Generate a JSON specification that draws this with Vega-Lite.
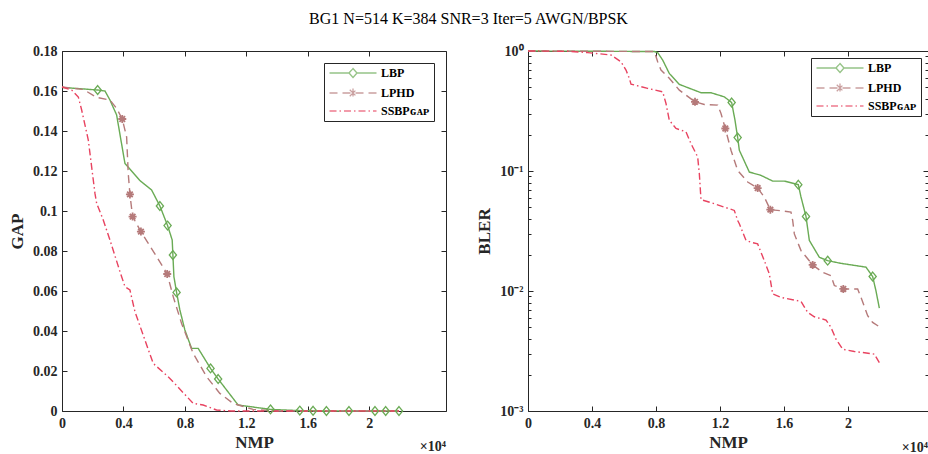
{
  "$schema": "https://vega.github.io/schema/vega-lite/v6.json",
  "background": "white",
  "padding": {"left": 8, "top": 10, "right": 0, "bottom": 0},
  "title": {"text": "BG1 N=514 K=384 SNR=3 Iter=5 AWGN/BPSK", "font": "Liberation Serif", "fontSize": 16, "fontWeight": "normal", "color": "black", "anchor": "middle", "offset": 17},
  "config": {
    "font": "Liberation Serif",
    "view": {"stroke": "#262626", "strokeWidth": 1},
    "axis": {"domain": false, "grid": false, "tickColor": "#262626", "tickSize": -5, "tickWidth": 1, "labelFont": "Liberation Serif", "labelFontSize": 14, "labelFontWeight": "bold", "labelColor": "#262626", "labelPadding": 10, "titleFont": "Liberation Serif", "titleFontSize": 17, "titleFontWeight": "bold", "titleColor": "#262626", "labelFlush": false},
    "axisX": {"titlePadding": 4},
    "axisY": {"titlePadding": 6},
    "legend": {"fillColor": "white", "strokeColor": "#262626", "padding": 4, "labelFont": "Liberation Serif", "labelFontSize": 12, "labelFontWeight": "bold", "labelColor": "black", "symbolStrokeWidth": 1.3, "symbolSize": 100, "rowPadding": 4, "symbolOffset": 19, "labelOffset": 22}
  },
  "datasets": {
    "gap": [
      {"s":"LBP","x":0,"y":0.1618},{"s":"LBP","x":2322,"y":0.1605,"m":1},{"s":"LBP","x":2797,"y":0.160},{"s":"LBP","x":3122,"y":0.1555},{"s":"LBP","x":3557,"y":0.148},{"s":"LBP","x":4098,"y":0.1238},{"s":"LBP","x":4250,"y":0.1225},{"s":"LBP","x":5073,"y":0.1152},{"s":"LBP","x":5834,"y":0.1105},{"s":"LBP","x":6374,"y":0.1025,"m":1},{"s":"LBP","x":6874,"y":0.0927,"m":1},{"s":"LBP","x":7174,"y":0.0855},{"s":"LBP","x":7220,"y":0.078,"m":1},{"s":"LBP","x":7285,"y":0.0672},{"s":"LBP","x":7460,"y":0.0593,"m":1},{"s":"LBP","x":7675,"y":0.0505},{"s":"LBP","x":8000,"y":0.0405},{"s":"LBP","x":8436,"y":0.0313},{"s":"LBP","x":8866,"y":0.0313},{"s":"LBP","x":9670,"y":0.0213,"m":1},{"s":"LBP","x":10166,"y":0.016,"m":1},{"s":"LBP","x":11466,"y":0.003},{"s":"LBP","x":13574,"y":0.0008,"m":1},{"s":"LBP","x":15480,"y":0.0002,"m":1},{"s":"LBP","x":16345,"y":0.0001,"m":1},{"s":"LBP","x":17215,"y":0,"m":1},{"s":"LBP","x":18684,"y":0,"m":1},{"s":"LBP","x":20377,"y":0,"m":1},{"s":"LBP","x":21073,"y":0,"m":1},{"s":"LBP","x":21940,"y":0,"m":1},
      {"s":"LPHD","x":0,"y":0.162},{"s":"LPHD","x":1388,"y":0.1608},{"s":"LPHD","x":2254,"y":0.1568},{"s":"LPHD","x":3122,"y":0.1555},{"s":"LPHD","x":3557,"y":0.1513},{"s":"LPHD","x":3924,"y":0.146,"m":1},{"s":"LPHD","x":4208,"y":0.137},{"s":"LPHD","x":4312,"y":0.1188},{"s":"LPHD","x":4423,"y":0.1083,"m":1},{"s":"LPHD","x":4596,"y":0.0972,"m":1},{"s":"LPHD","x":5138,"y":0.0897,"m":1},{"s":"LPHD","x":6159,"y":0.0772},{"s":"LPHD","x":6850,"y":0.0685,"m":1},{"s":"LPHD","x":7240,"y":0.0572},{"s":"LPHD","x":7785,"y":0.0438},{"s":"LPHD","x":8540,"y":0.0288},{"s":"LPHD","x":9410,"y":0.0172},{"s":"LPHD","x":10276,"y":0.0088},{"s":"LPHD","x":11140,"y":0.0038},{"s":"LPHD","x":12440,"y":0.0008},{"s":"LPHD","x":14000,"y":0},{"s":"LPHD","x":21950,"y":0},
      {"s":"SSBP_GAP","x":0,"y":0.162},{"s":"SSBP_GAP","x":630,"y":0.1605},{"s":"SSBP_GAP","x":1063,"y":0.157},{"s":"SSBP_GAP","x":1280,"y":0.1505},{"s":"SSBP_GAP","x":1712,"y":0.1355},{"s":"SSBP_GAP","x":2146,"y":0.1088},{"s":"SSBP_GAP","x":2257,"y":0.1038},{"s":"SSBP_GAP","x":2686,"y":0.0955},{"s":"SSBP_GAP","x":3122,"y":0.0855},{"s":"SSBP_GAP","x":3772,"y":0.0697},{"s":"SSBP_GAP","x":4098,"y":0.0622},{"s":"SSBP_GAP","x":4423,"y":0.0605},{"s":"SSBP_GAP","x":4748,"y":0.0497},{"s":"SSBP_GAP","x":5398,"y":0.0355},{"s":"SSBP_GAP","x":5939,"y":0.0238},{"s":"SSBP_GAP","x":7024,"y":0.0163},{"s":"SSBP_GAP","x":8540,"y":0.0038},{"s":"SSBP_GAP","x":9190,"y":0.003},{"s":"SSBP_GAP","x":10060,"y":0.0005},{"s":"SSBP_GAP","x":11000,"y":0},{"s":"SSBP_GAP","x":21950,"y":0}
    ],
    "bler": [
      {"s":"LBP","x":0,"y":1},{"s":"LBP","x":7900,"y":0.99},{"s":"LBP","x":8104,"y":0.97},{"s":"LBP","x":8419,"y":0.84},{"s":"LBP","x":8831,"y":0.65},{"s":"LBP","x":9459,"y":0.527},{"s":"LBP","x":10812,"y":0.449},{"s":"LBP","x":11437,"y":0.449},{"s":"LBP","x":12270,"y":0.415},{"s":"LBP","x":12729,"y":0.372,"m":1},{"s":"LBP","x":12937,"y":0.265},{"s":"LBP","x":13104,"y":0.19,"m":1},{"s":"LBP","x":13208,"y":0.149},{"s":"LBP","x":13833,"y":0.098},{"s":"LBP","x":14562,"y":0.092},{"s":"LBP","x":15293,"y":0.0824},{"s":"LBP","x":16020,"y":0.0824},{"s":"LBP","x":16895,"y":0.0769,"m":1},{"s":"LBP","x":17063,"y":0.0607},{"s":"LBP","x":17375,"y":0.0418,"m":1},{"s":"LBP","x":17583,"y":0.0264},{"s":"LBP","x":18208,"y":0.0191},{"s":"LBP","x":18729,"y":0.0179,"m":1},{"s":"LBP","x":19562,"y":0.017},{"s":"LBP","x":21125,"y":0.0158},{"s":"LBP","x":21541,"y":0.0132,"m":1},{"s":"LBP","x":21750,"y":0.01},{"s":"LBP","x":21958,"y":0.0072},
      {"s":"LPHD","x":0,"y":1},{"s":"LPHD","x":7900,"y":0.99},{"s":"LPHD","x":8104,"y":0.814},{"s":"LPHD","x":8313,"y":0.694},{"s":"LPHD","x":8831,"y":0.592},{"s":"LPHD","x":9459,"y":0.472},{"s":"LPHD","x":10438,"y":0.377,"m":1},{"s":"LPHD","x":11020,"y":0.358},{"s":"LPHD","x":11854,"y":0.354},{"s":"LPHD","x":12063,"y":0.301},{"s":"LPHD","x":12333,"y":0.226,"m":1},{"s":"LPHD","x":12687,"y":0.149},{"s":"LPHD","x":13104,"y":0.101},{"s":"LPHD","x":13729,"y":0.081},{"s":"LPHD","x":14354,"y":0.0721,"m":1},{"s":"LPHD","x":14771,"y":0.0606},{"s":"LPHD","x":15146,"y":0.0476,"m":1},{"s":"LPHD","x":15812,"y":0.0467},{"s":"LPHD","x":16437,"y":0.0454},{"s":"LPHD","x":16542,"y":0.0387},{"s":"LPHD","x":16646,"y":0.0299},{"s":"LPHD","x":17063,"y":0.0217},{"s":"LPHD","x":17792,"y":0.0165,"m":1},{"s":"LPHD","x":18417,"y":0.0143},{"s":"LPHD","x":18937,"y":0.0134},{"s":"LPHD","x":19146,"y":0.0111},{"s":"LPHD","x":19708,"y":0.0104,"m":1},{"s":"LPHD","x":20604,"y":0.0104},{"s":"LPHD","x":20812,"y":0.00885},{"s":"LPHD","x":21229,"y":0.00622},{"s":"LPHD","x":21541,"y":0.00547},{"s":"LPHD","x":21958,"y":0.00504},
      {"s":"SSBP_GAP","x":0,"y":1},{"s":"SSBP_GAP","x":2500,"y":0.995},{"s":"SSBP_GAP","x":3729,"y":0.97},{"s":"SSBP_GAP","x":5188,"y":0.926},{"s":"SSBP_GAP","x":5812,"y":0.814},{"s":"SSBP_GAP","x":6125,"y":0.694},{"s":"SSBP_GAP","x":6333,"y":0.591},{"s":"SSBP_GAP","x":6438,"y":0.53},{"s":"SSBP_GAP","x":7479,"y":0.488},{"s":"SSBP_GAP","x":8419,"y":0.457},{"s":"SSBP_GAP","x":8625,"y":0.365},{"s":"SSBP_GAP","x":8831,"y":0.265},{"s":"SSBP_GAP","x":9250,"y":0.226},{"s":"SSBP_GAP","x":9875,"y":0.212},{"s":"SSBP_GAP","x":10187,"y":0.169},{"s":"SSBP_GAP","x":10604,"y":0.131},{"s":"SSBP_GAP","x":10708,"y":0.095},{"s":"SSBP_GAP","x":10812,"y":0.0577},{"s":"SSBP_GAP","x":11645,"y":0.0534},{"s":"SSBP_GAP","x":12270,"y":0.05},{"s":"SSBP_GAP","x":12895,"y":0.0469},{"s":"SSBP_GAP","x":13104,"y":0.0387},{"s":"SSBP_GAP","x":13208,"y":0.0363},{"s":"SSBP_GAP","x":13625,"y":0.0264},{"s":"SSBP_GAP","x":13937,"y":0.0255},{"s":"SSBP_GAP","x":14354,"y":0.0247},{"s":"SSBP_GAP","x":14771,"y":0.0179},{"s":"SSBP_GAP","x":15083,"y":0.0139},{"s":"SSBP_GAP","x":15292,"y":0.00945},{"s":"SSBP_GAP","x":15813,"y":0.00885},{"s":"SSBP_GAP","x":16646,"y":0.0084},{"s":"SSBP_GAP","x":17063,"y":0.0082},{"s":"SSBP_GAP","x":17479,"y":0.00663},{"s":"SSBP_GAP","x":17896,"y":0.0061},{"s":"SSBP_GAP","x":18625,"y":0.00573},{"s":"SSBP_GAP","x":18937,"y":0.00497},{"s":"SSBP_GAP","x":19250,"y":0.00397},{"s":"SSBP_GAP","x":19667,"y":0.00327},{"s":"SSBP_GAP","x":20395,"y":0.00313},{"s":"SSBP_GAP","x":20917,"y":0.00307},{"s":"SSBP_GAP","x":21646,"y":0.00298},{"s":"SSBP_GAP","x":21958,"y":0.00253}
    ]
  },
  "spacing": 28,
  "resolve": {
    "scale": {"color": "independent", "strokeDash": "independent", "shape": "independent"},
    "legend": {"color": "independent", "strokeDash": "independent", "shape": "independent"}
  },
  "hconcat": [
    {
      "width": 384,
      "height": 360,
      "data": {"name": "gap"},
      "resolve": {"axis": {"x": "independent", "y": "independent"}},
      "layer": [
        {
          "mark": {"type": "line", "strokeWidth": 1.4},
          "encoding": {
            "x": {"field": "x", "type": "quantitative", "scale": {"domain": [0, 25000], "nice": false, "zero": false}, "axis": {"values": [0, 4000, 8000, 12000, 16000, 20000], "labelExpr": "format(datum.value/10000, '~g')", "title": "NMP"}},
            "y": {"field": "y", "type": "quantitative", "scale": {"domain": [0, 0.18], "nice": false}, "axis": {"values": [0, 0.02, 0.04, 0.06, 0.08, 0.1, 0.12, 0.14, 0.16, 0.18], "format": "~g", "title": "GAP"}},
            "color": {"field": "s", "type": "nominal", "scale": {"domain": ["LBP", "LPHD", "SSBP_GAP"], "range": ["#6aab55", "#b57a7a", "#e84360"]}, "legend": {"title": null, "orient": "top-right", "offset": 12, "labelExpr": "datum.label == 'SSBP_GAP' ? 'SSBPɢᴀᴘ' : datum.label"}},
            "strokeDash": {"field": "s", "type": "nominal", "scale": {"domain": ["LBP", "LPHD", "SSBP_GAP"], "range": [[1, 0], [8, 5], [7, 3, 1.5, 3]]}, "legend": {"title": null, "orient": "top-right", "offset": 12, "labelExpr": "datum.label == 'SSBP_GAP' ? 'SSBPɢᴀᴘ' : datum.label"}}
          }
        },
        {
          "transform": [{"filter": "false"}],
          "mark": {"type": "point", "filled": false, "size": 100, "strokeWidth": 1.3},
          "encoding": {
            "x": {"field": "x", "type": "quantitative", "axis": null},
            "y": {"field": "y", "type": "quantitative", "axis": null},
            "color": {"field": "s", "type": "nominal", "scale": {"domain": ["LBP", "LPHD", "SSBP_GAP"], "range": ["#6aab55", "#b57a7a", "#e84360"]}, "legend": {"title": null, "orient": "top-right", "offset": 12, "labelExpr": "datum.label == 'SSBP_GAP' ? 'SSBPɢᴀᴘ' : datum.label"}},
            "strokeDash": {"field": "s", "type": "nominal", "scale": {"domain": ["LBP", "LPHD", "SSBP_GAP"], "range": [[1, 0], [8, 5], [7, 3, 1.5, 3]]}, "legend": {"title": null, "orient": "top-right", "offset": 12, "labelExpr": "datum.label == 'SSBP_GAP' ? 'SSBPɢᴀᴘ' : datum.label"}},
            "shape": {"field": "s", "type": "nominal", "scale": {"domain": ["LBP", "LPHD", "SSBP_GAP"], "range": ["M-4.7,0L-0.8,0M0.8,0L4.7,0M0,-0.9L0.8,0L0,0.9L-0.8,0Z", "M-4.7,0L4.7,0M0,-0.9L0,0.9M-0.65,-0.65L0.65,0.65M-0.65,0.65L0.65,-0.65", "M-4.7,0L4.7,0"]}, "legend": {"title": null, "orient": "top-right", "offset": 12, "labelExpr": "datum.label == 'SSBP_GAP' ? 'SSBPɢᴀᴘ' : datum.label"}}
          }
        },
        {
          "transform": [{"filter": "datum.s == 'LBP' && datum.m == 1"}],
          "mark": {"type": "point", "shape": "M0,-1.1L0.9,0L0,1.1L-0.9,0Z", "filled": false, "size": 64, "strokeWidth": 1.3, "color": "#6aab55", "opacity": 1},
          "encoding": {
            "x": {"field": "x", "type": "quantitative", "axis": null},
            "y": {"field": "y", "type": "quantitative", "axis": null}
          }
        },
        {
          "transform": [{"filter": "datum.s == 'LPHD' && datum.m == 1"}],
          "mark": {"type": "point", "shape": "M-1,0L1,0M0,-1L0,1M-0.7,-0.7L0.7,0.7M-0.7,0.7L0.7,-0.7", "filled": false, "size": 64, "strokeWidth": 1.8, "color": "#b57a7a", "opacity": 1},
          "encoding": {
            "x": {"field": "x", "type": "quantitative", "axis": null},
            "y": {"field": "y", "type": "quantitative", "axis": null}
          }
        },
        {
          "transform": [{"filter": "false"}],
          "mark": {"type": "point"},
          "encoding": {
            "x": {"field": "x", "type": "quantitative", "axis": {"orient": "top", "values": [0, 4000, 8000, 12000, 16000, 20000], "labels": false, "title": null}},
            "y": {"field": "y", "type": "quantitative", "axis": {"orient": "right", "values": [0, 0.02, 0.04, 0.06, 0.08, 0.1, 0.12, 0.14, 0.16, 0.18], "labels": false, "title": null}}
          }
        },
        {
          "data": {"values": [{"t": "×10⁴"}]},
          "mark": {"type": "text", "align": "right", "baseline": "middle", "dy": 36, "font": "Liberation Serif", "fontSize": 14, "fontWeight": "bold", "color": "#262626"},
          "encoding": {
            "x": {"datum": 25000, "type": "quantitative", "axis": null},
            "y": {"datum": 0, "type": "quantitative", "axis": null},
            "text": {"field": "t"}
          }
        }
      ]
    },
    {
      "width": 400,
      "height": 360,
      "data": {"name": "bler"},
      "resolve": {"axis": {"x": "independent", "y": "independent"}},
      "layer": [
        {
          "mark": {"type": "line", "strokeWidth": 1.4},
          "encoding": {
            "x": {"field": "x", "type": "quantitative", "scale": {"domain": [0, 25000], "nice": false, "zero": false}, "axis": {"values": [0, 4000, 8000, 12000, 16000, 20000], "labelExpr": "format(datum.value/10000, '~g')", "title": "NMP"}},
            "y": {"field": "y", "type": "quantitative", "scale": {"type": "log", "domain": [0.001, 1], "nice": false}, "axis": {"values": [0.001, 0.002, 0.003, 0.004, 0.005, 0.006, 0.007, 0.008, 0.009, 0.01, 0.02, 0.03, 0.04, 0.05, 0.06, 0.07, 0.08, 0.09, 0.1, 0.2, 0.3, 0.4, 0.5, 0.6, 0.7, 0.8, 0.9, 1], "labelExpr": "abs(datum.value - 1) < 1e-9 ? '10⁰' : abs(datum.value - 0.1) < 1e-9 ? '10⁻¹' : abs(datum.value - 0.01) < 1e-9 ? '10⁻²' : abs(datum.value - 0.001) < 1e-9 ? '10⁻³' : ''", "tickSize": {"condition": {"test": "abs(log(datum.value)/LN10 - round(log(datum.value)/LN10)) < 1e-6", "value": -5}, "value": -3}, "title": "BLER"}},
            "color": {"field": "s", "type": "nominal", "scale": {"domain": ["LBP", "LPHD", "SSBP_GAP"], "range": ["#6aab55", "#b57a7a", "#e84360"]}, "legend": {"title": null, "orient": "top-right", "offset": 7, "labelExpr": "datum.label == 'SSBP_GAP' ? 'SSBPɢᴀᴘ' : datum.label"}},
            "strokeDash": {"field": "s", "type": "nominal", "scale": {"domain": ["LBP", "LPHD", "SSBP_GAP"], "range": [[1, 0], [8, 5], [7, 3, 1.5, 3]]}, "legend": {"title": null, "orient": "top-right", "offset": 7, "labelExpr": "datum.label == 'SSBP_GAP' ? 'SSBPɢᴀᴘ' : datum.label"}}
          }
        },
        {
          "transform": [{"filter": "false"}],
          "mark": {"type": "point", "filled": false, "size": 100, "strokeWidth": 1.3},
          "encoding": {
            "x": {"field": "x", "type": "quantitative", "axis": null},
            "y": {"field": "y", "type": "quantitative", "axis": null},
            "color": {"field": "s", "type": "nominal", "scale": {"domain": ["LBP", "LPHD", "SSBP_GAP"], "range": ["#6aab55", "#b57a7a", "#e84360"]}, "legend": {"title": null, "orient": "top-right", "offset": 7, "labelExpr": "datum.label == 'SSBP_GAP' ? 'SSBPɢᴀᴘ' : datum.label"}},
            "strokeDash": {"field": "s", "type": "nominal", "scale": {"domain": ["LBP", "LPHD", "SSBP_GAP"], "range": [[1, 0], [8, 5], [7, 3, 1.5, 3]]}, "legend": {"title": null, "orient": "top-right", "offset": 7, "labelExpr": "datum.label == 'SSBP_GAP' ? 'SSBPɢᴀᴘ' : datum.label"}},
            "shape": {"field": "s", "type": "nominal", "scale": {"domain": ["LBP", "LPHD", "SSBP_GAP"], "range": ["M-4.7,0L-0.8,0M0.8,0L4.7,0M0,-0.9L0.8,0L0,0.9L-0.8,0Z", "M-4.7,0L4.7,0M0,-0.9L0,0.9M-0.65,-0.65L0.65,0.65M-0.65,0.65L0.65,-0.65", "M-4.7,0L4.7,0"]}, "legend": {"title": null, "orient": "top-right", "offset": 7, "labelExpr": "datum.label == 'SSBP_GAP' ? 'SSBPɢᴀᴘ' : datum.label"}}
          }
        },
        {
          "transform": [{"filter": "datum.s == 'LBP' && datum.m == 1"}],
          "mark": {"type": "point", "shape": "M0,-1.1L0.9,0L0,1.1L-0.9,0Z", "filled": false, "size": 64, "strokeWidth": 1.3, "color": "#6aab55", "opacity": 1},
          "encoding": {
            "x": {"field": "x", "type": "quantitative", "axis": null},
            "y": {"field": "y", "type": "quantitative", "axis": null}
          }
        },
        {
          "transform": [{"filter": "datum.s == 'LPHD' && datum.m == 1"}],
          "mark": {"type": "point", "shape": "M-1,0L1,0M0,-1L0,1M-0.7,-0.7L0.7,0.7M-0.7,0.7L0.7,-0.7", "filled": false, "size": 64, "strokeWidth": 1.8, "color": "#b57a7a", "opacity": 1},
          "encoding": {
            "x": {"field": "x", "type": "quantitative", "axis": null},
            "y": {"field": "y", "type": "quantitative", "axis": null}
          }
        },
        {
          "transform": [{"filter": "false"}],
          "mark": {"type": "point"},
          "encoding": {
            "x": {"field": "x", "type": "quantitative", "axis": {"orient": "top", "values": [0, 4000, 8000, 12000, 16000, 20000], "labels": false, "title": null}},
            "y": {"field": "y", "type": "quantitative", "axis": {"orient": "right", "values": [0.001, 0.002, 0.003, 0.004, 0.005, 0.006, 0.007, 0.008, 0.009, 0.01, 0.02, 0.03, 0.04, 0.05, 0.06, 0.07, 0.08, 0.09, 0.1, 0.2, 0.3, 0.4, 0.5, 0.6, 0.7, 0.8, 0.9, 1], "tickSize": {"condition": {"test": "abs(log(datum.value)/LN10 - round(log(datum.value)/LN10)) < 1e-6", "value": -5}, "value": -3}, "labels": false, "title": null}}
          }
        },
        {
          "data": {"values": [{"t": "×10⁴"}]},
          "mark": {"type": "text", "align": "right", "baseline": "middle", "dy": 37, "font": "Liberation Serif", "fontSize": 14, "fontWeight": "bold", "color": "#262626"},
          "encoding": {
            "x": {"datum": 25000, "type": "quantitative", "axis": null},
            "y": {"datum": 0.001, "type": "quantitative", "axis": null},
            "text": {"field": "t"}
          }
        }
      ]
    }
  ]
}
